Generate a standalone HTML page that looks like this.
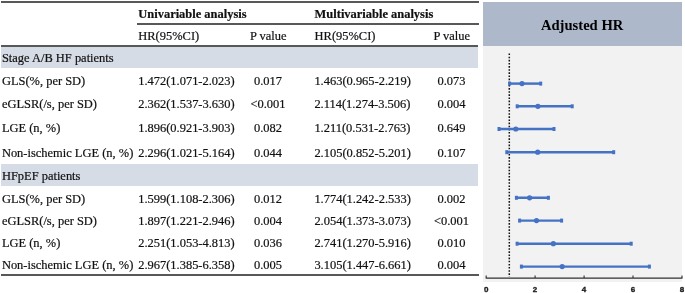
<!DOCTYPE html>
<html lang="en">
<head>
<meta charset="utf-8">
<title>Hazard ratios table with forest plot</title>
<style>
html,body{margin:0;padding:0;background:#fff;}
#fig{position:relative;width:685px;height:293px;overflow:hidden;background:#fff;
 font-family:"Liberation Serif",serif;font-size:12.46px;color:#111;line-height:1;}
.t,.c{-webkit-text-stroke:0.2px #111;}
.t{position:absolute;white-space:nowrap;line-height:1;}
.c{position:absolute;white-space:nowrap;line-height:1;text-align:center;width:60px;}
.b{font-weight:bold;}
.ln{position:absolute;background:#585858;}
.band{position:absolute;background:#d6dce5;left:1px;width:477.2px;}
#hdr{position:absolute;left:482.5px;top:1.8px;width:199.6px;height:44.3px;background:#adb9ca;}
#pan{position:absolute;left:482.5px;top:46.1px;width:199.6px;height:236.4px;background:#f2f2f2;}
#ttl{position:absolute;left:482.2px;width:199.9px;text-align:center;font-weight:bold;font-size:14.6px;line-height:1;color:#000;}
svg{position:absolute;left:0;top:0;}
svg text{font-family:"Liberation Sans",sans-serif;font-weight:bold;font-size:8px;fill:#1a1a1a;stroke:#1a1a1a;stroke-width:0.35px;text-anchor:middle;}
</style>
</head>
<body>
<div id="fig">

<div class="ln" style="left:1px;top:1.25px;width:477.6px;height:1.35px"></div>
<div class="ln" style="left:137.2px;top:23.4px;width:341.4px;height:1.3px"></div>
<div class="ln" style="left:1px;top:45.45px;width:477.3px;height:1.4px"></div>
<div class="ln" style="left:1px;top:274.2px;width:477.5px;height:1.5px"></div>
<div class="band" style="top:46.8px;height:21.3px"></div>
<div class="band" style="top:164.4px;height:21.4px"></div>
<div class="t b" style="left:138.3px;top:7.97px">Univariable analysis</div>
<div class="t b" style="left:314.6px;top:7.97px">Multivariable analysis</div>
<div class="t" style="left:138.3px;top:29.97px">HR(95%CI)</div>
<div class="c" style="left:238.2px;top:29.97px">P value</div>
<div class="t" style="left:314.6px;top:29.97px">HR(95%CI)</div>
<div class="c" style="left:421.7px;top:29.97px">P value</div>
<div class="t" style="left:1.9px;top:51.77px">Stage A/B HF patients</div>
<div class="t" style="left:1.9px;top:74.57px">GLS(%, per SD)</div>
<div class="t" style="left:138.2px;top:74.57px">1.472(1.071-2.023)</div>
<div class="c" style="left:238.0px;top:74.57px">0.017</div>
<div class="t" style="left:314.4px;top:74.57px">1.463(0.965-2.219)</div>
<div class="c" style="left:421.5px;top:74.57px">0.073</div>
<div class="t" style="left:1.9px;top:97.97px">eGLSR(/s, per SD)</div>
<div class="t" style="left:138.2px;top:97.97px">2.362(1.537-3.630)</div>
<div class="c" style="left:238.0px;top:97.97px">&lt;0.001</div>
<div class="t" style="left:314.4px;top:97.97px">2.114(1.274-3.506)</div>
<div class="c" style="left:421.5px;top:97.97px">0.004</div>
<div class="t" style="left:1.9px;top:122.47px">LGE (n, %)</div>
<div class="t" style="left:138.2px;top:122.47px">1.896(0.921-3.903)</div>
<div class="c" style="left:238.0px;top:122.47px">0.082</div>
<div class="t" style="left:314.4px;top:122.47px">1.211(0.531-2.763)</div>
<div class="c" style="left:421.5px;top:122.47px">0.649</div>
<div class="t" style="left:1.9px;top:146.97px">Non-ischemic LGE (n, %)</div>
<div class="t" style="left:138.2px;top:146.97px">2.296(1.021-5.164)</div>
<div class="c" style="left:238.0px;top:146.97px">0.044</div>
<div class="t" style="left:314.4px;top:146.97px">2.105(0.852-5.201)</div>
<div class="c" style="left:421.5px;top:146.97px">0.107</div>
<div class="t" style="left:1.9px;top:169.97px">HFpEF patients</div>
<div class="t" style="left:1.9px;top:192.87px">GLS(%, per SD)</div>
<div class="t" style="left:138.2px;top:192.87px">1.599(1.108-2.306)</div>
<div class="c" style="left:238.0px;top:192.87px">0.012</div>
<div class="t" style="left:314.4px;top:192.87px">1.774(1.242-2.533)</div>
<div class="c" style="left:421.5px;top:192.87px">0.002</div>
<div class="t" style="left:1.9px;top:214.97px">eGLSR(/s, per SD)</div>
<div class="t" style="left:138.2px;top:214.97px">1.897(1.221-2.946)</div>
<div class="c" style="left:238.0px;top:214.97px">0.004</div>
<div class="t" style="left:314.4px;top:214.97px">2.054(1.373-3.073)</div>
<div class="c" style="left:421.5px;top:214.97px">&lt;0.001</div>
<div class="t" style="left:1.9px;top:236.97px">LGE (n, %)</div>
<div class="t" style="left:138.2px;top:236.97px">2.251(1.053-4.813)</div>
<div class="c" style="left:238.0px;top:236.97px">0.036</div>
<div class="t" style="left:314.4px;top:236.97px">2.741(1.270-5.916)</div>
<div class="c" style="left:421.5px;top:236.97px">0.010</div>
<div class="t" style="left:1.9px;top:258.97px">Non-ischemic LGE (n, %)</div>
<div class="t" style="left:138.2px;top:258.97px">2.967(1.385-6.358)</div>
<div class="c" style="left:238.0px;top:258.97px">0.005</div>
<div class="t" style="left:314.4px;top:258.97px">3.105(1.447-6.661)</div>
<div class="c" style="left:421.5px;top:258.97px">0.004</div>
<div id="hdr"></div><div id="pan"></div>
<div id="ttl" style="top:17.68px">Adjusted HR</div>
<svg width="685" height="293" viewBox="0 0 685 293">
<line x1="509.3" y1="53.5" x2="509.3" y2="276.8" stroke="#111" stroke-width="1.5" stroke-dasharray="1.6 1.54"/>
<g stroke="#4472c4" fill="#4472c4"><line x1="509.8" y1="83.6" x2="540.5" y2="83.6" stroke-width="2.45"/>
<rect x="508.1" y="81.6" width="3" height="4" stroke="none"/>
<rect x="539.2" y="81.6" width="3" height="4" stroke="none"/>
<circle cx="522.0" cy="83.6" r="2.6" stroke="none"/></g>
<g stroke="#4472c4" fill="#4472c4"><line x1="517.4" y1="106.3" x2="572.0" y2="106.3" stroke-width="2.45"/>
<rect x="515.7" y="104.3" width="3" height="4" stroke="none"/>
<rect x="570.7" y="104.3" width="3" height="4" stroke="none"/>
<circle cx="537.9" cy="106.3" r="2.6" stroke="none"/></g>
<g stroke="#4472c4" fill="#4472c4"><line x1="499.2" y1="129.0" x2="553.8" y2="129.0" stroke-width="2.45"/>
<rect x="497.5" y="127.0" width="3" height="4" stroke="none"/>
<rect x="552.5" y="127.0" width="3" height="4" stroke="none"/>
<circle cx="515.8" cy="129.0" r="2.6" stroke="none"/></g>
<g stroke="#4472c4" fill="#4472c4"><line x1="507.0" y1="152.2" x2="613.5" y2="152.2" stroke-width="2.45"/>
<rect x="505.3" y="150.2" width="3" height="4" stroke="none"/>
<rect x="612.2" y="150.2" width="3" height="4" stroke="none"/>
<circle cx="537.7" cy="152.2" r="2.6" stroke="none"/></g>
<g stroke="#4472c4" fill="#4472c4"><line x1="516.6" y1="197.8" x2="548.2" y2="197.8" stroke-width="2.45"/>
<rect x="514.9" y="195.8" width="3" height="4" stroke="none"/>
<rect x="546.9" y="195.8" width="3" height="4" stroke="none"/>
<circle cx="529.6" cy="197.8" r="2.6" stroke="none"/></g>
<g stroke="#4472c4" fill="#4472c4"><line x1="519.8" y1="220.6" x2="561.4" y2="220.6" stroke-width="2.45"/>
<rect x="518.1" y="218.6" width="3" height="4" stroke="none"/>
<rect x="560.1" y="218.6" width="3" height="4" stroke="none"/>
<circle cx="536.5" cy="220.6" r="2.6" stroke="none"/></g>
<g stroke="#4472c4" fill="#4472c4"><line x1="517.3" y1="243.7" x2="631.0" y2="243.7" stroke-width="2.45"/>
<rect x="515.6" y="241.7" width="3" height="4" stroke="none"/>
<rect x="629.7" y="241.7" width="3" height="4" stroke="none"/>
<circle cx="553.3" cy="243.7" r="2.6" stroke="none"/></g>
<g stroke="#4472c4" fill="#4472c4"><line x1="521.6" y1="266.6" x2="649.2" y2="266.6" stroke-width="2.45"/>
<rect x="519.9" y="264.6" width="3" height="4" stroke="none"/>
<rect x="647.9" y="264.6" width="3" height="4" stroke="none"/>
<circle cx="562.2" cy="266.6" r="2.6" stroke="none"/></g>
<path d="M485.7 278.1H682.5" stroke="#303030" stroke-width="1.4" fill="none"/>
<path d="M486.2 275.4V278.1" stroke="#303030" stroke-width="1.1" fill="none"/>
<text x="486.2" y="291.6">0</text>
<path d="M535.1 275.4V278.1" stroke="#303030" stroke-width="1.1" fill="none"/>
<text x="535.1" y="291.6">2</text>
<path d="M584.1 275.4V278.1" stroke="#303030" stroke-width="1.1" fill="none"/>
<text x="584.1" y="291.6">4</text>
<path d="M633.0 275.4V278.1" stroke="#303030" stroke-width="1.1" fill="none"/>
<text x="633.0" y="291.6">6</text>
<path d="M682.0 275.4V278.1" stroke="#303030" stroke-width="1.1" fill="none"/>
<text x="682.0" y="291.6">8</text>
</svg>
</div>
</body>
</html>
